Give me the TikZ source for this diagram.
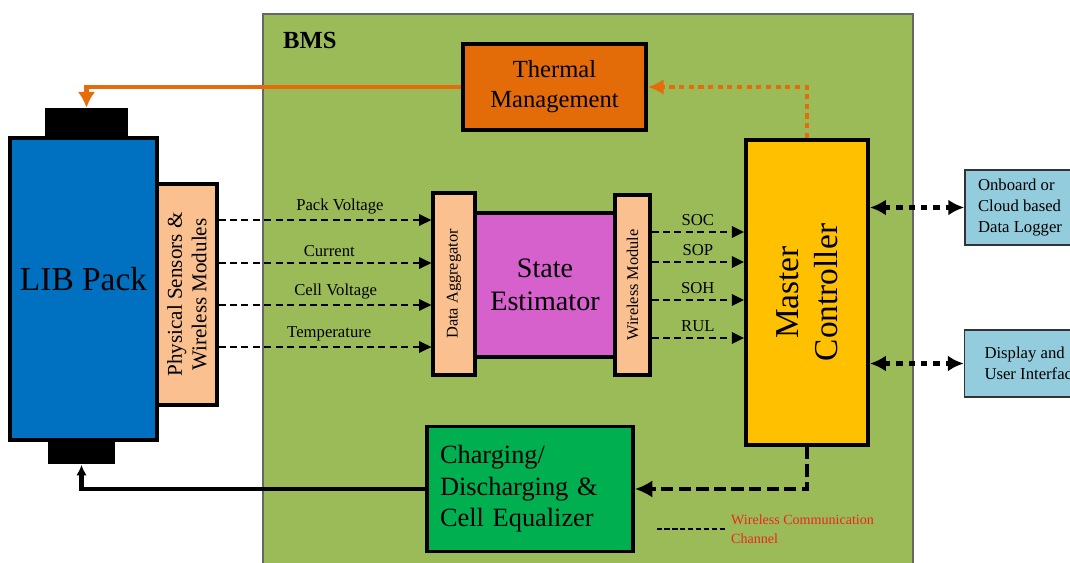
\documentclass[tikz,border=0pt]{standalone}
\usepackage{fontspec}
\setmainfont{Liberation Serif}
\usepackage{tikz}
\usetikzlibrary{arrows.meta, positioning, calc}
\definecolor{bmsgreen}{RGB}{155,187,89}
\definecolor{thermorange}{RGB}{227,108,9}
\definecolor{arroworange}{RGB}{228,108,10}
\definecolor{libblue}{RGB}{0,112,192}
\definecolor{peach}{RGB}{250,192,144}
\definecolor{estmagenta}{RGB}{214,96,204}
\definecolor{masteryellow}{RGB}{255,192,0}
\definecolor{chargegreen}{RGB}{0,176,80}
\definecolor{iflightblue}{RGB}{147,205,221}
\definecolor{legendred}{RGB}{235,40,30}

\begin{document}
\begin{tikzpicture}[
    x=0.02cm, y=-0.02cm,
    block/.style={
        rectangle, draw=black, fill=#1, line width=2.2pt, inner sep=0pt
    },
    strip/.style={
        rectangle, draw=black, fill=peach, line width=1.8pt, inner sep=0pt
    },
    ifbox/.style={
        rectangle, draw=black!80, fill=iflightblue, line width=0.9pt,
        align=left, font={\fontsize{9.5}{12}\selectfont}
    },
    vlabel/.style={rotate=90, align=center},
    sig/.style={-{Triangle[length=7pt, width=6.5pt]}, line width=1.1pt,
        dash pattern=on 4pt off 2.5pt},
    siglabel/.style={above, font={\fontsize{9.5}{11}\selectfont}, inner sep=3pt},
    link/.style={{Latex[length=9pt, width=9pt]}-{Latex[length=9pt, width=9pt]},
        line width=3pt, dash pattern=on 3.5pt off 3.5pt},
    ctrl/.style={-{Latex[length=10pt, width=10pt]}, line width=2.8pt,
        dash pattern=on 7pt off 3pt},
    power/.style={-{Latex[length=6pt, width=6pt]}, line width=2.4pt},
    therm/.style={-{Latex[length=9pt, width=10pt]}, line width=2.6pt, color=arroworange},
    thermdot/.style={-{Latex[length=9pt, width=9pt]}, line width=2.8pt,
        color=arroworange, dash pattern=on 3pt off 2.5pt}
]

\useasboundingbox (0,0) rectangle (1070,563);

% BMS area
\draw[fill=bmsgreen, draw=black!60, line width=0.6pt] (263,14) rectangle (913,580);
\node[font=\fontsize{14}{16}\selectfont\bfseries, anchor=west] (bmslabel) at (277,40) {BMS};

% Battery pack with terminals
\node[rectangle, fill=black, minimum width=1.66cm, minimum height=0.64cm] (topcap) at (86.5,124) {};
\node[rectangle, fill=black, minimum width=1.34cm, minimum height=0.5cm] (botcap) at (81.5,452) {};
\node[block=libblue, line width=2.4pt, minimum width=2.94cm, minimum height=6.04cm,
      font=\fontsize{19}{22}\selectfont] (lib) at (83.5,289) {};
\node[font=\fontsize{19}{22}\selectfont] at (83.5,279) {LIB Pack};
\node[strip, minimum width=1.2cm, minimum height=4.42cm] (sens) at (187,294.5) {};
\node[vlabel, font=\fontsize{12}{14}\selectfont] at (sens) {Physical Sensors \&\\Wireless Modules};

% Estimation chain
\node[strip, minimum width=0.84cm, minimum height=3.64cm] (agg) at (454,284) {};
\node[vlabel, font=\fontsize{9.3}{11}\selectfont] at (agg) {Data Aggregator};
\node[block=estmagenta, minimum width=2.8cm, minimum height=2.88cm, align=center,
      font=\fontsize{16}{19}\selectfont] (est) at (545,285) {State\\Estimator};
\node[strip, minimum width=0.7cm, minimum height=3.6cm] (wmod) at (632.5,285) {};
\node[vlabel, font=\fontsize{9.3}{11}\selectfont] at (wmod) {Wireless Module};

% Controller and actuators
\node[block=masteryellow, minimum width=2.44cm, minimum height=6.1cm] (master) at (807,292.5) {};
\node[vlabel, font=\fontsize{19}{22}\selectfont] at (master) {Master\\Controller};
\node[block=thermorange, minimum width=3.66cm, minimum height=1.72cm, align=center,
      font=\fontsize{14}{17}\selectfont] (thermal) at (554.5,87) {Thermal\\Management};
\node[block=chargegreen, minimum width=4.12cm, minimum height=2.5cm, text width=3.6cm,
      align=left, font=\fontsize{15}{18}\selectfont] (charge) at (530,489)
      {Charging/\\Discharging \&\\Cell Equalizer};

% Outside interfaces
\node[ifbox, minimum width=2.2cm, minimum height=1.5cm] (logger) at (1020,207.5)
      {Onboard or\\Cloud based\\Data Logger};
\node[ifbox, minimum width=2.7cm, minimum height=1.34cm] (display) at (1032,363.5)
      {Display and\\User Interface};

% Sensor signals
\draw[sig] ([yshift=1.49cm]sens.east) -- ([yshift=1.49cm]sens.east -| agg.west)
    node[siglabel, pos=0.57] {Pack Voltage};
\draw[sig] ([yshift=0.63cm]sens.east) -- ([yshift=0.63cm]sens.east -| agg.west)
    node[siglabel, pos=0.52] {Current};
\draw[sig] ([yshift=-0.21cm]sens.east) -- ([yshift=-0.21cm]sens.east -| agg.west)
    node[siglabel, pos=0.55] {Cell Voltage};
\draw[sig] ([yshift=-1.05cm]sens.east) -- ([yshift=-1.05cm]sens.east -| agg.west)
    node[siglabel, pos=0.52] {Temperature};

% Estimated states
\draw[sig] ([yshift=1.06cm]wmod.east) -- ([yshift=1.06cm]wmod.east -| master.west)
    node[siglabel, midway] {SOC};
\draw[sig] ([yshift=0.46cm]wmod.east) -- ([yshift=0.46cm]wmod.east -| master.west)
    node[siglabel, midway] {SOP};
\draw[sig] ([yshift=-0.3cm]wmod.east) -- ([yshift=-0.3cm]wmod.east -| master.west)
    node[siglabel, midway] {SOH};
\draw[sig] ([yshift=-1.06cm]wmod.east) -- ([yshift=-1.06cm]wmod.east -| master.west)
    node[siglabel, midway] {RUL};

% Controller links
\draw[link] (logger.west -| master.east) -- (logger.west);
\draw[link] (display.west -| master.east) -- (display.west);
\draw[thermdot] (master.north) |- (thermal.east);
\draw[therm] (thermal.west) -| (topcap.north);
\draw[ctrl] (master.south) |- (charge.east);
\draw[power] (charge.west) -| (botcap.south);

% Legend
\node[anchor=west, align=left, text=legendred, font={\fontsize{8}{10.5}\selectfont}] (legend) at (725,529)
      {Wireless Communication\\Channel};
\draw[line width=1.1pt, dash pattern=on 3pt off 1.5pt] (legend.west) -- ++(-68,0);

\end{tikzpicture}
\end{document}
